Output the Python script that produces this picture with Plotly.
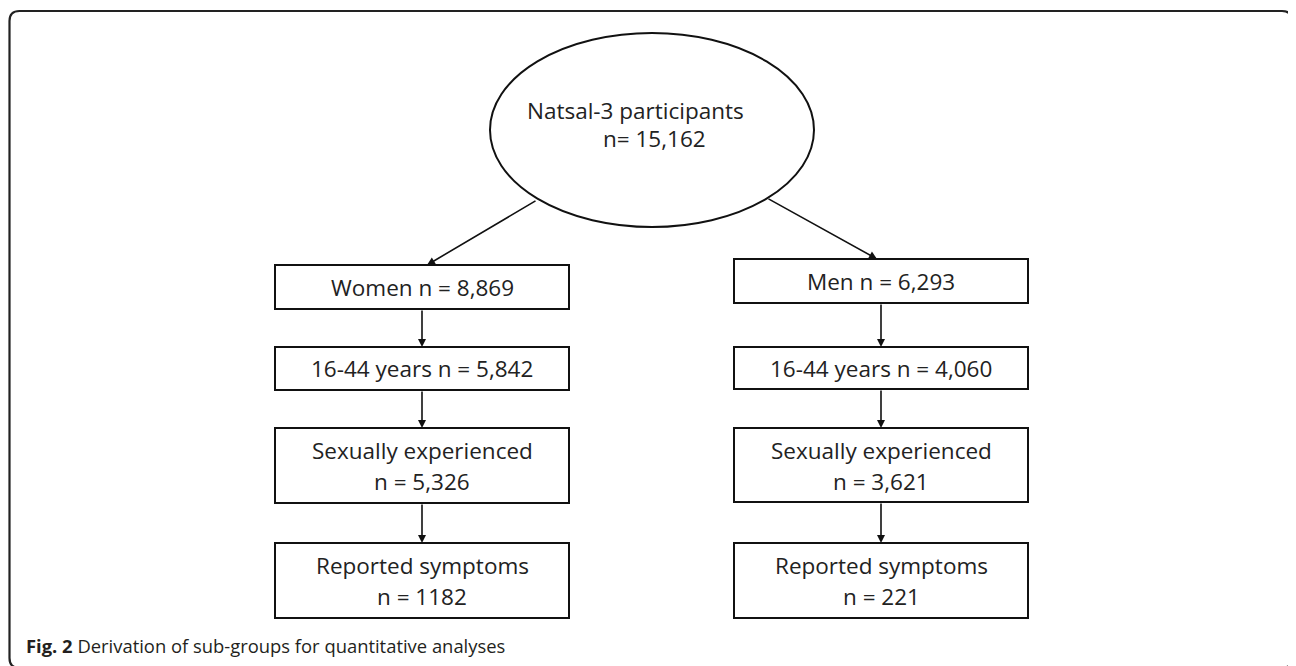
import plotly.graph_objects as go

# ---- data ----
root_label = "Natsal-3 participants"
root_n = "15,162"
women_labels = ["Women", "16-44 years", "Sexually experienced", "Reported symptoms"]
women_n = ["8,869", "5,842", "5,326", "1182"]
men_labels = ["Men", "16-44 years", "Sexually experienced", "Reported symptoms"]
men_n = ["6,293", "4,060", "3,621", "221"]
caption_bold = "Fig. 2"
caption_text = "Derivation of sub-groups for quantitative analyses"

# ---- layout geometry (pixels, y downward) ----
W, H = 1296, 666
OFF = 8  # page body margin
women_box = dict(x0=275, x1=569, rows=[(265, 309), (347, 390), (428, 503), (543, 618)])
men_box = dict(x0=734, x1=1028, rows=[(259, 303), (347, 389), (428, 502), (543, 618)])
ell = dict(cx=652, cy=130, rx=162, ry=97)

FONT = "Open Sans"
FS = 22.5
TXT = "#222222"

shapes = []
annotations = []

# outer rounded border
r = 10
x0, y0, x1, y1 = 9.5, 11, 1292, 668
path = (f"M {x0+r},{y0} L {x1-r},{y0} Q {x1},{y0} {x1},{y0+r} L {x1},{y1-r} Q {x1},{y1} {x1-r},{y1} "
        f"L {x0+r},{y1} Q {x0},{y1} {x0},{y1-r} L {x0},{y0+r} Q {x0},{y0} {x0+r},{y0} Z")
shapes.append(dict(type="path", path=path, xref="x", yref="y", line=dict(color="#222222", width=2.2)))

# ellipse
shapes.append(dict(type="circle", xref="x", yref="y",
                   x0=ell["cx"] - ell["rx"], x1=ell["cx"] + ell["rx"],
                   y0=ell["cy"] - ell["ry"], y1=ell["cy"] + ell["ry"],
                   line=dict(color="#111111", width=2)))
annotations.append(dict(x=525, y=110, text=root_label, showarrow=False, xanchor="left", yanchor="middle",
                        font=dict(family=FONT, size=FS, color=TXT)))
annotations.append(dict(x=601, y=138, text=f"n= {root_n}", showarrow=False, xanchor="left", yanchor="middle",
                        font=dict(family=FONT, size=FS, color=TXT)))


def column(box, labels, ns):
    cx = (box["x0"] + box["x1"]) / 2
    for i, ((ty, by), lab, n) in enumerate(zip(box["rows"], labels, ns)):
        shapes.append(dict(type="rect", xref="x", yref="y", x0=box["x0"], x1=box["x1"], y0=ty, y1=by,
                           line=dict(color="#111111", width=2)))
        mid = (ty + by) / 2
        if i < 2:
            annotations.append(dict(x=cx, y=mid, text=f"{lab} n = {n}", showarrow=False,
                                    xanchor="center", yanchor="middle",
                                    font=dict(family=FONT, size=FS, color=TXT)))
        else:
            annotations.append(dict(x=cx, y=mid - 15, text=lab, showarrow=False,
                                    xanchor="center", yanchor="middle",
                                    font=dict(family=FONT, size=FS, color=TXT)))
            annotations.append(dict(x=cx, y=mid + 16, text=f"n = {n}", showarrow=False,
                                    xanchor="center", yanchor="middle",
                                    font=dict(family=FONT, size=FS, color=TXT)))
        if i > 0:
            prev_bottom = box["rows"][i - 1][1]
            annotations.append(dict(x=cx, y=ty, ax=cx, ay=prev_bottom, xref="x", yref="y",
                                    axref="x", ayref="y", showarrow=True, arrowhead=2,
                                    arrowsize=1, arrowwidth=1.6, arrowcolor="#111111", text=""))
    return cx


wcx = column(women_box, women_labels, women_n)
mcx = column(men_box, men_labels, men_n)

# diagonal arrows from ellipse
annotations.append(dict(x=427, y=women_box["rows"][0][0], ax=537, ay=200, xref="x", yref="y",
                        axref="x", ayref="y", showarrow=True, arrowhead=2, arrowsize=1,
                        arrowwidth=1.6, arrowcolor="#111111", text=""))
annotations.append(dict(x=877, y=men_box["rows"][0][0], ax=767, ay=198, xref="x", yref="y",
                        axref="x", ayref="y", showarrow=True, arrowhead=2, arrowsize=1,
                        arrowwidth=1.6, arrowcolor="#111111", text=""))

# caption
annotations.append(dict(x=24, y=645, text=f"<b>{caption_bold}</b> {caption_text}", showarrow=False,
                        xanchor="left", yanchor="middle",
                        font=dict(family=FONT, size=18.4, color="#231f20")))

fig = go.Figure()
fig.update_layout(
    width=W, height=H,
    margin=dict(l=0, r=0, t=0, b=0),
    paper_bgcolor="white", plot_bgcolor="white",
    xaxis=dict(range=[OFF, W + OFF], visible=False, fixedrange=True),
    yaxis=dict(range=[H + OFF, OFF], visible=False, fixedrange=True),
    shapes=shapes, annotations=annotations, showlegend=False,
)
fig.write_html("out.html")
